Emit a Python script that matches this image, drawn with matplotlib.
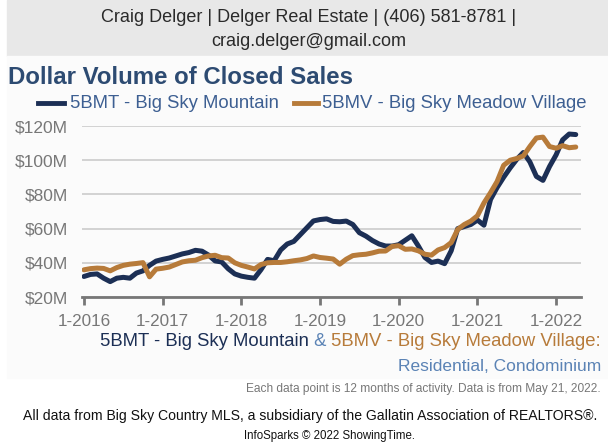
import matplotlib
matplotlib.use("Agg")
import matplotlib.pyplot as plt
from matplotlib.patches import Rectangle
from matplotlib.lines import Line2D

plt.rcParams['font.family'] = ['Liberation Sans', 'DejaVu Sans']

W, H = 608, 448

# monthly rolling 12-month dollar volume, $M, Jan 2016 .. Apr 2022
bmt = [32, 33.2, 33.5, 31, 29, 31, 31.5, 31, 34, 35.3, 38.5, 41,
       42, 42.8, 44, 45.2, 46, 47.3, 46.8, 44.5, 41.1, 40.5, 36.5, 33.5,
       32.2, 31.5, 31, 36, 42, 41.2, 47.5, 51, 52.5, 56.5, 60.5, 64.5,
       65.3, 65.7, 64.2, 64, 64.4, 62.4, 57.6, 55.6, 53, 51, 49.8, 49.8,
       50.6, 53.2, 55.8, 49.8, 43.1, 40.2, 41, 39.5, 47, 60, 61.2, 62.4,
       65, 62, 77, 84, 90, 95.5, 100.5, 104.5, 99, 90.5, 88.2, 96.3,
       103.1, 111.9, 115.3, 115]
bmv = [35.9, 36.6, 36.9, 36.7, 35.3, 37.2, 38.5, 39.2, 39.6, 40.1, 31.8, 36.3,
       36.8, 37.5, 39, 40.5, 41.2, 41.5, 43, 44, 44.4, 43, 42.8, 40,
       38.5, 37.5, 36.4, 39, 40, 40.2, 40.2, 40.6, 41.2, 41.7, 42.5, 44,
       43.1, 42.7, 42.2, 39.2, 42.1, 44.2, 44.7, 45, 45.8, 46.8, 46.9, 49.6,
       50, 47.9, 48.1, 47, 45, 44.5, 47.5, 48.9, 51.8, 59.5, 62.4, 64.4,
       67.5, 75, 81, 87.5, 97, 100, 101, 102.5, 108, 113, 113.5, 108,
       107, 108.5, 107.3, 107.7]
months = list(range(len(bmt)))

xtick_pos = [0, 12, 24, 36, 48, 60, 72]
xtick_labels = ['1-2016', '1-2017', '1-2018', '1-2019', '1-2020', '1-2021', '1-2022']
ytick_pos = [20, 40, 60, 80, 100, 120]
ytick_labels = ['$20M', '$40M', '$60M', '$80M', '$100M', '$120M']

navy = '#1c2f55'
orange = '#b77b3a'
title_col = '#2d4b72'
legend_col = '#3d5f92'
blue_light = '#5b83b5'

fig = plt.figure(figsize=(W / 100, H / 100), dpi=100)


def fx(x):
    return x / W


def fy(y):
    return 1 - y / H


# header band and faint panel behind the chart
fig.patches.append(Rectangle((fx(7), fy(56)), 1, 56 / H, transform=fig.transFigure,
                             color='#e8e8e8', zorder=-10))
fig.patches.append(Rectangle((fx(7), fy(378)), 1, (378 - 56) / H, transform=fig.transFigure,
                             color='#fbfbfb', zorder=-10))

fig.text(fx(309), fy(18), 'Craig Delger | Delger Real Estate | (406) 581-8781 |',
         ha='center', va='center', fontsize=13, color='#2a2a2a')
fig.text(fx(309), fy(42), 'craig.delger@gmail.com',
         ha='center', va='center', fontsize=13, color='#2a2a2a')

fig.text(fx(8), fy(77), 'Dollar Volume of Closed Sales', ha='left', va='center',
         fontsize=17.3, fontweight='bold', color=title_col)

# legend
fig.lines.append(Line2D([fx(38), fx(64)], [fy(103), fy(103)], transform=fig.transFigure,
                        color=navy, lw=3.5))
fig.text(fx(70), fy(103), '5BMT - Big Sky Mountain', ha='left', va='center',
         fontsize=13.3, color=legend_col)
fig.lines.append(Line2D([fx(294), fx(318)], [fy(103), fy(103)], transform=fig.transFigure,
                        color=orange, lw=3.5))
fig.text(fx(322), fy(103), '5BMV - Big Sky Meadow Village', ha='left', va='center',
         fontsize=13.3, color=legend_col)

ax = fig.add_axes([fx(82), fy(297), (581 - 82) / W, (297 - 126) / H])
ax.set_facecolor('none')
ax.plot(months, bmt, color=navy, lw=3.6, solid_capstyle='round', solid_joinstyle='round', zorder=3)
ax.plot(months, bmv, color=orange, lw=3.6, solid_capstyle='round', solid_joinstyle='round', zorder=4)

ax.set_xlim(-0.3, 75.8)
ax.set_ylim(20, 120)
ax.set_yticks(ytick_pos)
ax.set_yticklabels(ytick_labels)
ax.set_xticks(xtick_pos)
ax.set_xticklabels(xtick_labels)
ax.grid(axis='y', color='#c8c8c8', lw=1.1)
for s in ['top', 'right', 'left']:
    ax.spines[s].set_visible(False)
ax.spines['bottom'].set_color('#777777')
ax.spines['bottom'].set_linewidth(2)
ax.spines['bottom'].set_zorder(5)
ax.tick_params(axis='y', length=0, pad=10, labelsize=12.5, labelcolor='#777777')
ax.tick_params(axis='x', length=6, width=2, color='#777777', pad=6,
               labelsize=12.3, labelcolor='#777777')

# multi-coloured subtitle, built right to left
fig.canvas.draw()
r = fig.canvas.get_renderer()
parts = [('5BMV - Big Sky Meadow Village:', orange),
         (' & ', blue_light),
         ('5BMT - Big Sky Mountain', navy)]
xr = fx(601)
for txt, col in parts:
    t = fig.text(xr, fy(342), txt, ha='right', va='center', fontsize=13.3, color=col)
    bb = t.get_window_extent(renderer=r)
    xr -= bb.width / W

fig.text(fx(601), fy(366), 'Residential, Condominium', ha='right', va='center',
         fontsize=12.5, color=blue_light)
fig.text(fx(601), fy(389), 'Each data point is 12 months of activity. Data is from May 21, 2022.',
         ha='right', va='center', fontsize=8.6, color='#777777')
fig.text(fx(310), fy(416), 'All data from Big Sky Country MLS, a subsidiary of the Gallatin Association of REALTORS\u00ae.',
         ha='center', va='center', fontsize=10.1, color='#111111')
fig.text(fx(330), fy(436), 'InfoSparks \u00a9 2022 ShowingTime.',
         ha='center', va='center', fontsize=8.3, color='#111111')

fig.savefig('out.png', dpi=100)
